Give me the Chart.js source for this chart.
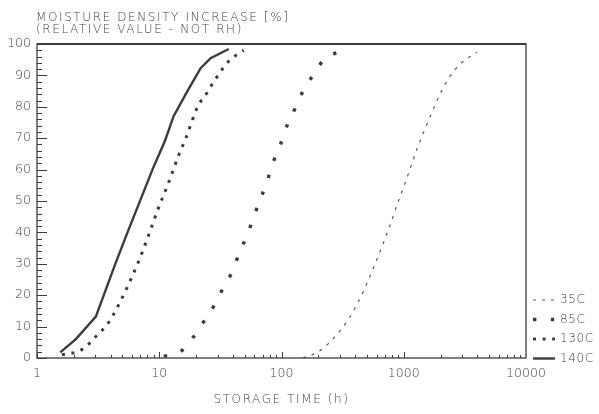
<!DOCTYPE html>
<html>
<head>
<meta charset="utf-8">
<script src="https://cdn.jsdelivr.net/npm/chart.js@4"></script>
<style>
  html, body { margin: 0; padding: 0; background: #fff; }
  #wrap { width: 599px; height: 414px; }
</style>
</head>
<body>
<div id="wrap"><canvas id="chart"></canvas></div>
<script>
const seriesLabels = ['35C', '85C', '130C', '140C'];
const xTickValues = [1, 10, 100, 1000, 10000];

// storage time (h) / moisture density increase (%)
const time35 = [150, 200, 260, 360, 465, 575, 735, 900, 1070, 1290, 1590, 1970, 2360, 2950, 3970];
const moist35 = [0, 2, 5.8, 12.9, 21, 29.4, 40, 49.7, 57.7, 66.8, 75.5, 83.9, 89.4, 93.9, 97.4];

const time85 = [10.9, 15.2, 19.1, 23.5, 28.4, 33.6, 39.8, 45.2, 52.7, 59, 67.3, 76.5, 86, 98, 111, 130, 150, 183, 228, 320];
const moist85 = [0.5, 2.3, 6.8, 12, 17, 22.6, 27.7, 33.5, 39.4, 44.8, 50.6, 56.5, 62.6, 68, 74, 79.7, 85, 90.3, 95.5, 97.7];

const time130 = [1.6, 2.24, 2.61, 2.97, 3.39, 3.8, 4.17, 5.33, 6.7, 8.06, 9.7, 11.9, 14.5, 16.5, 20.6, 24.9, 27.3, 37, 49];
const moist130 = [1, 2.3, 4.2, 6.5, 8.7, 11, 13.5, 21.6, 30.3, 38.4, 47.1, 55.8, 64.8, 70, 80, 84.8, 87.4, 94.5, 98];

const time140 = [1.55, 2.08, 3.03, 4.4, 5.5, 8.8, 11.1, 13.1, 17, 21.8, 26.3, 37];
const moist140 = [1.8, 6, 13.2, 30.3, 40, 60, 69, 77, 85, 92.3, 95.5, 98.4];

const pts = (xs, ys) => xs.map((x, i) => ({ x, y: ys[i] }));

const ink = '#3c3c3c';
const fontFamily = '"DejaVu Sans", sans-serif';
Chart.defaults.font.family = fontFamily;
Chart.defaults.color = '#444';

const datasets = [
  { label: seriesLabels[0], data: pts(time35, moist35), borderColor: '#5a5a5a', borderWidth: 1.2,
    borderDash: [3, 6], cubicInterpolationMode: 'monotone' },
  { label: seriesLabels[1], data: pts(time85, moist85), borderColor: ink, borderWidth: 3.4,
    borderDash: [3.4, 14.4], cubicInterpolationMode: 'monotone' },
  { label: seriesLabels[2], data: pts(time130, moist130), borderColor: ink, borderWidth: 3,
    borderDash: [3, 6.6], cubicInterpolationMode: 'monotone' },
  { label: seriesLabels[3], data: pts(time140, moist140), borderColor: ink, borderWidth: 2.4,
    borderDash: [], tension: 0 },
];

const plotterDecor = {
  id: 'plotterDecor',
  afterDraw(chart) {
    const { ctx, chartArea: a, scales: { x, y } } = chart;
    ctx.save();
    ctx.strokeStyle = ink;
    ctx.lineCap = 'butt';

    // frame
    ctx.lineWidth = 1.3;
    ctx.strokeRect(a.left, a.top, a.right - a.left, a.bottom - a.top);
    ctx.lineWidth = 2.2;
    ctx.beginPath();
    ctx.moveTo(a.left, a.top);
    ctx.lineTo(a.right, a.top);
    ctx.stroke();

    // inward ticks
    ctx.lineWidth = 1;
    ctx.beginPath();
    for (let v = 0; v <= 100; v += 2) {
      const py = Math.round(y.getPixelForValue(v)) + 0.5;
      const len = v % 10 === 0 ? 10 : 5;
      ctx.moveTo(a.left, py);
      ctx.lineTo(a.left + len, py);
    }
    for (let d = 1; d < 10000; d *= 10) {
      for (let m = 1; m <= 9; m++) {
        const px = Math.round(x.getPixelForValue(d * m)) + 0.5;
        const len = m === 1 ? 6 : 3;
        ctx.moveTo(px, a.bottom);
        ctx.lineTo(px, a.bottom - len);
      }
    }
    ctx.stroke();

    // titles
    ctx.fillStyle = '#444';
    ctx.font = '300 12px ' + fontFamily;
    ctx.letterSpacing = '1.6px';
    ctx.textBaseline = 'middle';
    ctx.textAlign = 'left';
    ctx.fillText('MOISTURE DENSITY INCREASE [%]', 36, 18);
    ctx.fillText('(RELATIVE VALUE - NOT RH)', 36, 30);
    ctx.textAlign = 'center';
    ctx.fillText('STORAGE TIME (h)', (a.left + a.right) / 2, 400);

    // legend
    ctx.letterSpacing = '0.6px';
    chart.data.datasets.forEach((ds, i) => {
      const ly = 300 + i * 19.5;
      ctx.strokeStyle = ds.borderColor;
      ctx.lineWidth = ds.borderWidth;
      ctx.setLineDash(ds.borderDash);
      ctx.beginPath();
      ctx.moveTo(533, ly);
      ctx.lineTo(555, ly);
      ctx.stroke();
      ctx.setLineDash([]);
      ctx.textAlign = 'left';
      ctx.fillText(ds.label, 560, ly);
    });
    ctx.restore();
  }
};

new Chart(document.getElementById('chart'), {
  type: 'line',
  data: { datasets },
  plugins: [plotterDecor],
  options: {
    responsive: true,
    maintainAspectRatio: false,
    animation: false,
    layout: { padding: { top: 44, right: 73, left: 0, bottom: 0 } },
    elements: { point: { radius: 0 } },
    plugins: { legend: { display: false }, tooltip: { enabled: false } },
    scales: {
      x: {
        type: 'logarithmic',
        min: 1,
        max: 10000,
        afterFit: (s) => { s.height = 56; },
        afterBuildTicks: (s) => { s.ticks = xTickValues.map(v => ({ value: v })); },
        grid: { display: false, drawTicks: false },
        border: { display: false },
        ticks: { autoSkip: false, maxRotation: 0, padding: 8, font: { size: 12.5, weight: 300 },
          callback: (v) => String(v) },
      },
      y: {
        min: 0,
        max: 100,
        afterFit: (s) => { s.width = 37; },
        grid: { display: false, drawTicks: false },
        border: { display: false },
        ticks: { stepSize: 10, padding: 6, font: { size: 12.5, weight: 300 } },
      },
    },
  },
});
</script>
</body>
</html>
